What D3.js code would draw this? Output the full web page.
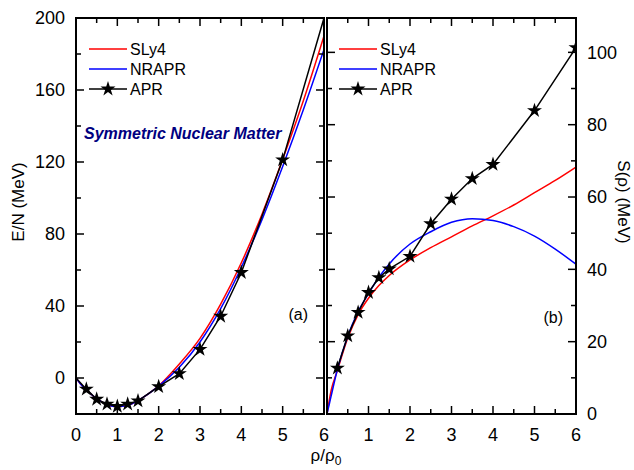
<!DOCTYPE html>
<html>
<head>
<meta charset="utf-8">
<script src="https://cdn.jsdelivr.net/npm/d3@7"></script>
<style>
  body { margin: 0; background: #fff; }
  text { font-family: "Liberation Sans", Arial, sans-serif; }
</style>
</head>
<body>
<svg width="634" height="470"></svg>
<script>
// ---- data ----
// panel (a): energy per nucleon of symmetric nuclear matter
const rhoA = [0, 0.1, 0.25, 0.5, 0.75, 1, 1.25, 1.5, 1.75, 2, 2.5, 3, 3.5, 4, 4.5, 5, 5.5, 6];
const sly4A = [0, -3, -6.5, -11.5, -14.8, -16, -15.2, -12.5, -8.8, -4.3, 7.8, 22, 41, 64, 91, 121.5, 154, 190];
const nraprA = [0, -3, -6.5, -11.5, -14.8, -16, -15.2, -12.5, -8.8, -4.5, 6, 20, 38.5, 61.5, 88, 117.5, 149, 182.5];
const aprRhoA = [0, 0.25, 0.5, 0.75, 1, 1.25, 1.5, 2, 2.5, 3, 3.5, 4, 5, 6];
const aprA = [0, -6.2, -11.8, -14.5, -15.8, -14.5, -12.7, -4.8, 2.4, 15.9, 34.3, 58.6, 121.2, 200];
const aprStarA = [false, true, true, true, true, true, true, true, true, true, true, true, true, false];

// panel (b): symmetry energy
const rhoB = [0, 0.05, 0.1, 0.25, 0.5, 0.75, 1, 1.25, 1.5, 2, 2.5, 3, 3.5, 4, 4.5, 5, 5.5, 6];
const sly4B = [0, 3.5, 6.5, 12, 21, 27.5, 32, 35.5, 38.3, 42.6, 46, 49, 52, 54.8, 57.8, 61.2, 64.6, 68.3];
const nraprB = [0, 2.5, 5, 12.3, 21.5, 28.3, 33.3, 37.8, 41.5, 47, 50.4, 53, 54, 53.5, 51.8, 49.2, 45.6, 41.4];
const aprRhoB = [0.25, 0.5, 0.75, 1, 1.25, 1.5, 2, 2.5, 3, 3.5, 4, 5, 6];
const aprB = [12.7, 21.6, 28.1, 33.6, 37.7, 40.1, 43.6, 52.6, 59.4, 65.1, 69.0, 83.9, 101.3];

const seriesNames = ['SLy4', 'NRAPR', 'APR'];
const seriesColors = ['#ff0000', '#0000ff', '#000000'];

const svg = d3.select('svg');

// ---- scales ----
const xA = d3.scaleLinear().domain([0, 6]).range([76, 324]);
const yA = d3.scaleLinear().domain([-20, 200]).range([414, 18]);
const xB = d3.scaleLinear().domain([0, 6]).range([327, 576]);
const yB = d3.scaleLinear().domain([0, 109.5]).range([414, 18]);

const star = d3.symbol().type(d3.symbolStar).size(70);

// clip paths
const defs = svg.append('defs');
defs.append('clipPath').attr('id', 'clipA').append('rect')
  .attr('x', 76).attr('y', 18).attr('width', 248).attr('height', 396);
defs.append('clipPath').attr('id', 'clipB').append('rect')
  .attr('x', 327).attr('y', 18).attr('width', 249).attr('height', 396);

function drawCurve(g, xs, ys, x, y, color, curve) {
  const pts = xs.map((d, i) => [d, ys[i]]);
  g.append('path')
    .datum(pts)
    .attr('fill', 'none')
    .attr('stroke', color)
    .attr('stroke-width', 1.5)
    .attr('d', d3.line().x(d => x(d[0])).y(d => y(d[1])).curve(curve));
}

function drawStars(g, xs, ys, x, y, mask) {
  g.selectAll('.star')
    .data(xs.map((d, i) => [d, ys[i], mask ? mask[i] : true]).filter(d => d[2]))
    .enter().append('path')
    .attr('d', star)
    .attr('fill', '#000')
    .attr('transform', d => `translate(${x(d[0])},${y(d[1])})`);
}

// frame with inward ticks on all four sides
function frame(x, y, xMaj, xMin, yMaj, yMin) {
  const g = svg.append('g').attr('stroke', '#000').attr('stroke-width', 1.5);
  const [x0, x1] = x.range();
  const [y0, y1] = y.range(); // y0 bottom, y1 top
  g.append('rect').attr('x', x0).attr('y', y1).attr('width', x1 - x0).attr('height', y0 - y1)
    .attr('fill', 'none').attr('stroke-width', 2);
  const tick = (v, len, horiz) => {
    if (horiz) {
      g.append('line').attr('x1', x(v)).attr('x2', x(v)).attr('y1', y0).attr('y2', y0 - len);
      g.append('line').attr('x1', x(v)).attr('x2', x(v)).attr('y1', y1).attr('y2', y1 + len);
    } else {
      g.append('line').attr('x1', x0).attr('x2', x0 + len).attr('y1', y(v)).attr('y2', y(v));
      g.append('line').attr('x1', x1).attr('x2', x1 - len).attr('y1', y(v)).attr('y2', y(v));
    }
  };
  xMaj.forEach(v => tick(v, 8, true));
  xMin.forEach(v => tick(v, 5, true));
  yMaj.forEach(v => tick(v, 8, false));
  yMin.forEach(v => tick(v, 5, false));
}

// ---- panel (a) ----
const gA = svg.append('g').attr('clip-path', 'url(#clipA)');
drawCurve(gA, rhoA, sly4A, xA, yA, seriesColors[0], d3.curveMonotoneX);
drawCurve(gA, rhoA, nraprA, xA, yA, seriesColors[1], d3.curveMonotoneX);
drawCurve(gA, aprRhoA, aprA, xA, yA, seriesColors[2], d3.curveLinear);
drawStars(gA, aprRhoA, aprA, xA, yA, aprStarA);

frame(xA, yA,
  d3.range(0, 6.01, 1), d3.range(0.5, 6, 1),
  d3.range(0, 201, 40), d3.range(20, 200, 40));

// ---- panel (b) ----
const gB = svg.append('g').attr('clip-path', 'url(#clipB)');
drawCurve(gB, rhoB, sly4B, xB, yB, seriesColors[0], d3.curveMonotoneX);
drawCurve(gB, rhoB, nraprB, xB, yB, seriesColors[1], d3.curveMonotoneX);
drawCurve(gB, aprRhoB, aprB, xB, yB, seriesColors[2], d3.curveLinear);
drawStars(gB, aprRhoB, aprB, xB, yB);

frame(xB, yB,
  d3.range(0, 6.01, 1), d3.range(0.5, 6, 1),
  d3.range(0, 101, 20), d3.range(10, 109, 20));

// ---- tick labels ----
const lab = svg.append('g').attr('font-size', 18).attr('fill', '#000');
d3.range(0, 7).forEach(v => {
  lab.append('text').attr('x', xA(v)).attr('y', 441).attr('text-anchor', 'middle').text(v);
});
d3.range(1, 7).forEach(v => {
  lab.append('text').attr('x', xB(v)).attr('y', 441).attr('text-anchor', 'middle').text(v);
});
d3.range(0, 201, 40).forEach(v => {
  lab.append('text').attr('x', 65).attr('y', yA(v)).attr('dy', '0.36em')
    .attr('text-anchor', 'end').text(v);
});
d3.range(0, 101, 20).forEach(v => {
  lab.append('text').attr('x', 587).attr('y', yB(v)).attr('dy', '0.36em')
    .attr('text-anchor', 'start').text(v);
});

// axis titles
const xt = svg.append('text').attr('x', 326).attr('y', 461).attr('text-anchor', 'middle')
  .attr('font-size', 17);
xt.append('tspan').text('ρ/ρ');
xt.append('tspan').attr('font-size', 12).attr('dy', 4).text('0');

svg.append('text').attr('transform', 'translate(24,202) rotate(-90)')
  .attr('text-anchor', 'middle').attr('font-size', 17).text('E/N (MeV)');
svg.append('text').attr('transform', 'translate(618,202) rotate(90)')
  .attr('text-anchor', 'middle').attr('font-size', 17).text('S(ρ) (MeV)');

// annotations
svg.append('text').attr('x', 84).attr('y', 139).attr('font-size', 16)
  .attr('font-weight', 'bold').attr('font-style', 'italic').attr('fill', '#000080')
  .text('Symmetric Nuclear Matter');
svg.append('text').attr('x', 308).attr('y', 320).attr('text-anchor', 'end')
  .attr('font-size', 16).text('(a)');
svg.append('text').attr('x', 563).attr('y', 323).attr('text-anchor', 'end')
  .attr('font-size', 16).text('(b)');

// ---- legends ----
function legend(x0, x1) {
  const g = svg.append('g');
  seriesNames.forEach((name, i) => {
    const y = 49 + i * 20;
    g.append('line').attr('x1', x0).attr('x2', x1).attr('y1', y).attr('y2', y)
      .attr('stroke', seriesColors[i]).attr('stroke-width', 1.5);
    if (name === 'APR') {
      g.append('path').attr('d', star).attr('fill', '#000')
        .attr('transform', `translate(${(x0 + x1) / 2},${y})`);
    }
    g.append('text').attr('x', x1 + 3).attr('y', y).attr('dy', '0.36em')
      .attr('font-size', 16).text(name);
  });
}
legend(89, 127);
legend(339, 377);
</script>
</body>
</html>
